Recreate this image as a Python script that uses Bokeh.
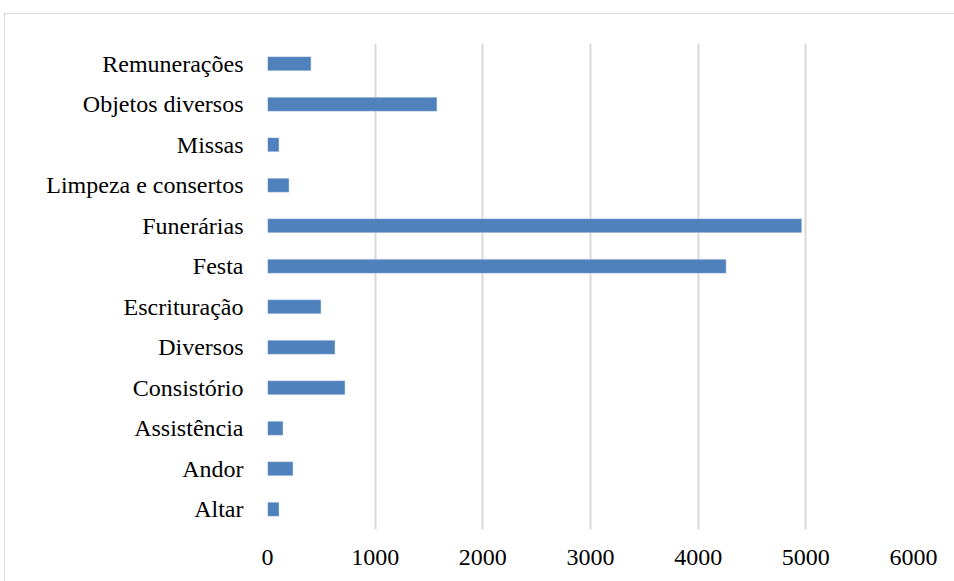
from bokeh.plotting import figure
from bokeh.models import Range1d, FactorRange, ColumnDataSource, FixedTicker
from bokeh.embed import file_html
from bokeh.resources import INLINE

categories = ["Altar", "Andor", "Assistência", "Consistório", "Diversos", "Escrituração",
              "Festa", "Funerárias", "Limpeza e consertos", "Missas", "Objetos diversos",
              "Remunerações"]
values = [107, 237, 144, 720, 627, 497, 4260, 4962, 200, 107, 1574, 404]
x_ticks = [0, 1000, 2000, 3000, 4000, 5000, 6000]

source = ColumnDataSource(data=dict(cat=categories, val=values))

p = figure(
    y_range=FactorRange(factors=categories, range_padding=0),
    x_range=Range1d(0, 6000),
    width=950, height=568,
    frame_width=646, frame_height=486,
    min_border_left=262, min_border_top=29, min_border_right=42, min_border_bottom=52,
    output_backend="svg", toolbar_location=None,
)
p.margin = (13, 0, 0, 4)
p.styles = {"border": "1px solid #d9d9d9"}

p.hbar(y="cat", right="val", left=0, height=0.35, source=source,
       fill_color="#4f81bd", line_color="#dce6f2", line_width=0.5)

p.outline_line_color = None
p.background_fill_color = "white"
p.border_fill_color = "white"

p.ygrid.grid_line_color = None
p.xgrid.grid_line_color = "#d9d9d9"
p.xgrid.grid_line_width = 2
p.xaxis.ticker = FixedTicker(ticks=x_ticks)

for ax in (p.xaxis[0], p.yaxis[0]):
    ax.axis_line_color = None
    ax.major_tick_line_color = None
    ax.minor_tick_line_color = None
    ax.major_label_text_font = "Liberation Serif"
    ax.major_label_text_font_size = "24px"
    ax.major_label_text_color = "black"

p.yaxis.major_label_standoff = 18
p.xaxis.major_label_standoff = 14

open("out.html", "w").write(file_html(p, INLINE))
